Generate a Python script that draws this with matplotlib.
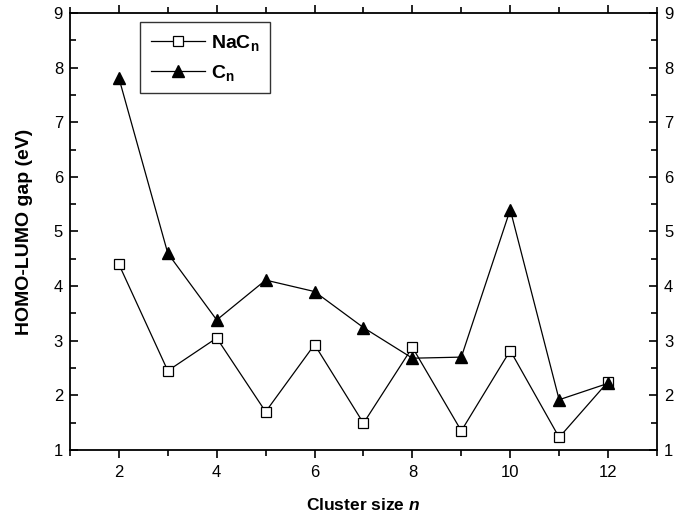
import matplotlib
matplotlib.use('Agg')
import matplotlib.pyplot as plt
from matplotlib.ticker import MultipleLocator

plt.rcParams['font.family'] = ['Liberation Sans', 'DejaVu Sans']
plt.rcParams['mathtext.fontset'] = 'custom'
plt.rcParams['mathtext.rm'] = 'Liberation Sans:bold'
plt.rcParams['mathtext.it'] = 'Liberation Sans:bold:italic'
plt.rcParams['mathtext.bf'] = 'Liberation Sans:bold'

# cluster size
n = [2, 3, 4, 5, 6, 7, 8, 9, 10, 11, 12]
# HOMO-LUMO gaps (eV)
nac_gap = [4.40, 2.45, 3.05, 1.70, 2.93, 1.49, 2.88, 1.35, 2.82, 1.23, 2.25]
c_gap = [7.81, 4.60, 3.38, 4.11, 3.90, 3.24, 2.68, 2.70, 5.40, 1.92, 2.22]

fig = plt.figure(figsize=(6.99, 5.18), dpi=100)
ax = fig.add_axes([0.1001, 0.1313, 0.8398, 0.8437])

ax.plot(n, nac_gap, color='black', lw=0.9, marker='s', markersize=6.5,
        markerfacecolor='white', markeredgecolor='black', markeredgewidth=0.9,
        label=r'NaC$_\mathrm{n}$', zorder=3)
ax.plot(n, c_gap, color='black', lw=0.9, marker='^', markersize=9,
        markerfacecolor='black', markeredgecolor='black',
        label=r'C$_\mathrm{n}$', zorder=4)

ax.set_xlim(1, 13)
ax.set_ylim(1, 9)
ax.xaxis.set_major_locator(MultipleLocator(2))
ax.xaxis.set_minor_locator(MultipleLocator(1))
ax.yaxis.set_major_locator(MultipleLocator(1))
ax.yaxis.set_minor_locator(MultipleLocator(0.5))

for s in ax.spines.values():
    s.set_linewidth(1.3)

ax.tick_params(axis='x', which='both', direction='out', top=True,
               labelsize=12, width=1.2, pad=5)
ax.tick_params(axis='x', which='major', length=6)
ax.tick_params(axis='x', which='minor', length=4)
ax.tick_params(axis='y', which='both', direction='in', right=True,
               labelright=True, labelsize=12, width=1.2, pad=5)
ax.tick_params(axis='y', which='major', length=6)
ax.tick_params(axis='y', which='minor', length=4)

ax.set_xlabel(r'Cluster size $n$', fontsize=12.5, fontweight='bold', labelpad=12)
ax.set_ylabel('HOMO-LUMO gap (eV)', fontsize=14, fontweight='bold', labelpad=15)

leg = ax.legend(loc='upper left', bbox_to_anchor=(0.119, 0.979),
                prop={'weight': 'bold', 'size': 14}, frameon=True, fancybox=False,
                handlelength=2.8, handletextpad=0.3, borderpad=0.55,
                labelspacing=0.5, borderaxespad=0)
leg.get_frame().set_edgecolor('black')
leg.get_frame().set_linewidth(1.0)

fig.savefig('out.png', dpi=100)
